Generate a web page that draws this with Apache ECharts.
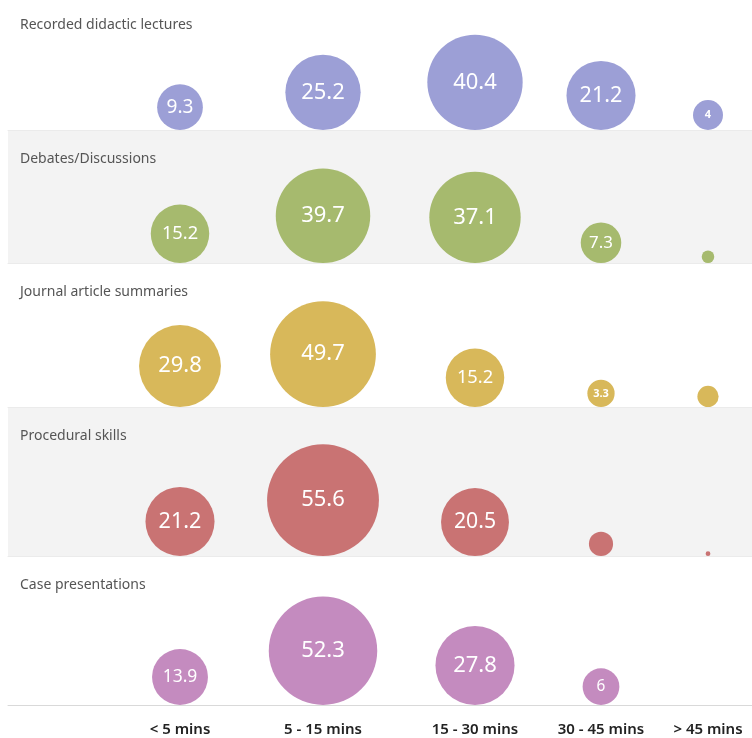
<!DOCTYPE html>
<html>
<head>
<meta charset="utf-8">
<script src="https://cdn.jsdelivr.net/npm/echarts@6/dist/echarts.min.js"></script>
<style>html,body{margin:0;padding:0;background:#fff}#c{width:752px;height:738px}</style>
</head>
<body>
<div id="c"></div>
<script>
// ---- data ----
var categories = ['< 5 mins', '5 - 15 mins', '15 - 30 mins', '30 - 45 mins', '> 45 mins'];
var rowNames = ['Recorded didactic lectures', 'Debates/Discussions', 'Journal article summaries', 'Procedural skills', 'Case presentations'];
var lectures   = [9.3, 25.2, 40.4, 21.2, 4];
var debates    = [15.2, 39.7, 37.1, 7.3, 0.7];
var journal    = [29.8, 49.7, 15.2, 3.3, 2.0];
var procedural = [21.2, 55.6, 20.5, 2.6, 0.1];
var cases      = [13.9, 52.3, 27.8, 6, 0];
var rowValues = [lectures, debates, journal, procedural, cases];

// ---- layout / style ----
var colX = [180, 323, 475, 601, 708];           // column centres on the x value axis
var gridTops = [0, 130, 263, 407, 556];
var gridHeights = [130, 133, 144, 149, 149];
var bandFill = [false, true, false, true, false];
var colors = ['#9c9fd6', '#a6ba6e', '#d8b85a', '#c97373', '#c48bbf'];
var FONT = '"Noto Sans", "Open Sans", sans-serif';

function radius(v) { return 7.5 * Math.sqrt(v); }

var grids = [], xAxes = [], yAxes = [], series = [], titles = [];
for (var r = 0; r < 5; r++) {
  grids.push({
    left: 8, right: 0, top: gridTops[r], height: gridHeights[r],
    show: bandFill[r], backgroundColor: '#f3f3f3', borderWidth: 0
  });
  var last = r === 4;
  xAxes.push({
    gridIndex: r, type: 'value', min: 8, max: 752,
    axisLine: { show: true, lineStyle: { color: last ? '#d9d9d9' : '#ebebeb', width: 1 } },
    axisTick: { show: false },
    splitLine: { show: false },
    axisLabel: last ? {
      show: true, customValues: colX, margin: 17,
      color: '#222', fontSize: 15, fontWeight: 600, fontFamily: FONT,
      formatter: function (val) {
        for (var i = 0; i < colX.length; i++) if (Math.abs(colX[i] - val) < 0.5) return categories[i];
        return '';
      }
    } : { show: false }
  });
  yAxes.push({
    gridIndex: r, type: 'value', min: 0, max: 1, show: false,
    splitLine: { show: false }
  });
  var data = rowValues[r].map(function (v, i) {
    var d = 2 * radius(v);
    var n = String(v).length;
    var fs = Math.max(9, Math.min(22, d * 0.42, d * 1.25 / n));
    if (v < 5) fs = Math.min(fs, 11);
    return {
      value: [colX[i], 0, v],
      symbolSize: d,
      label: {
        show: v >= 3,
        fontSize: fs,
        fontWeight: v < 5 ? 'bold' : 'normal'
      }
    };
  });
  series.push({
    type: 'scatter',
    xAxisIndex: r, yAxisIndex: r,
    symbol: 'circle',
    symbolOffset: [0, '-50%'],
    clip: false,
    itemStyle: { color: colors[r], opacity: 1 },
    label: {
      position: 'inside', color: '#fff', fontFamily: FONT,
      formatter: function (p) { return String(p.value[2]); }
    },
    emphasis: { disabled: true },
    data: data
  });
  titles.push({
    text: rowNames[r], left: 15, top: (r === 0 ? 13 : gridTops[r] + 17),
    textStyle: { color: '#555', fontSize: 14, fontWeight: 'normal', fontFamily: FONT }
  });
}

var chart = echarts.init(document.getElementById('c'), null, { renderer: 'canvas' });
chart.setOption({
  animation: false,
  backgroundColor: '#fff',
  title: titles,
  grid: grids,
  xAxis: xAxes,
  yAxis: yAxes,
  series: series
});
</script>
</body>
</html>
